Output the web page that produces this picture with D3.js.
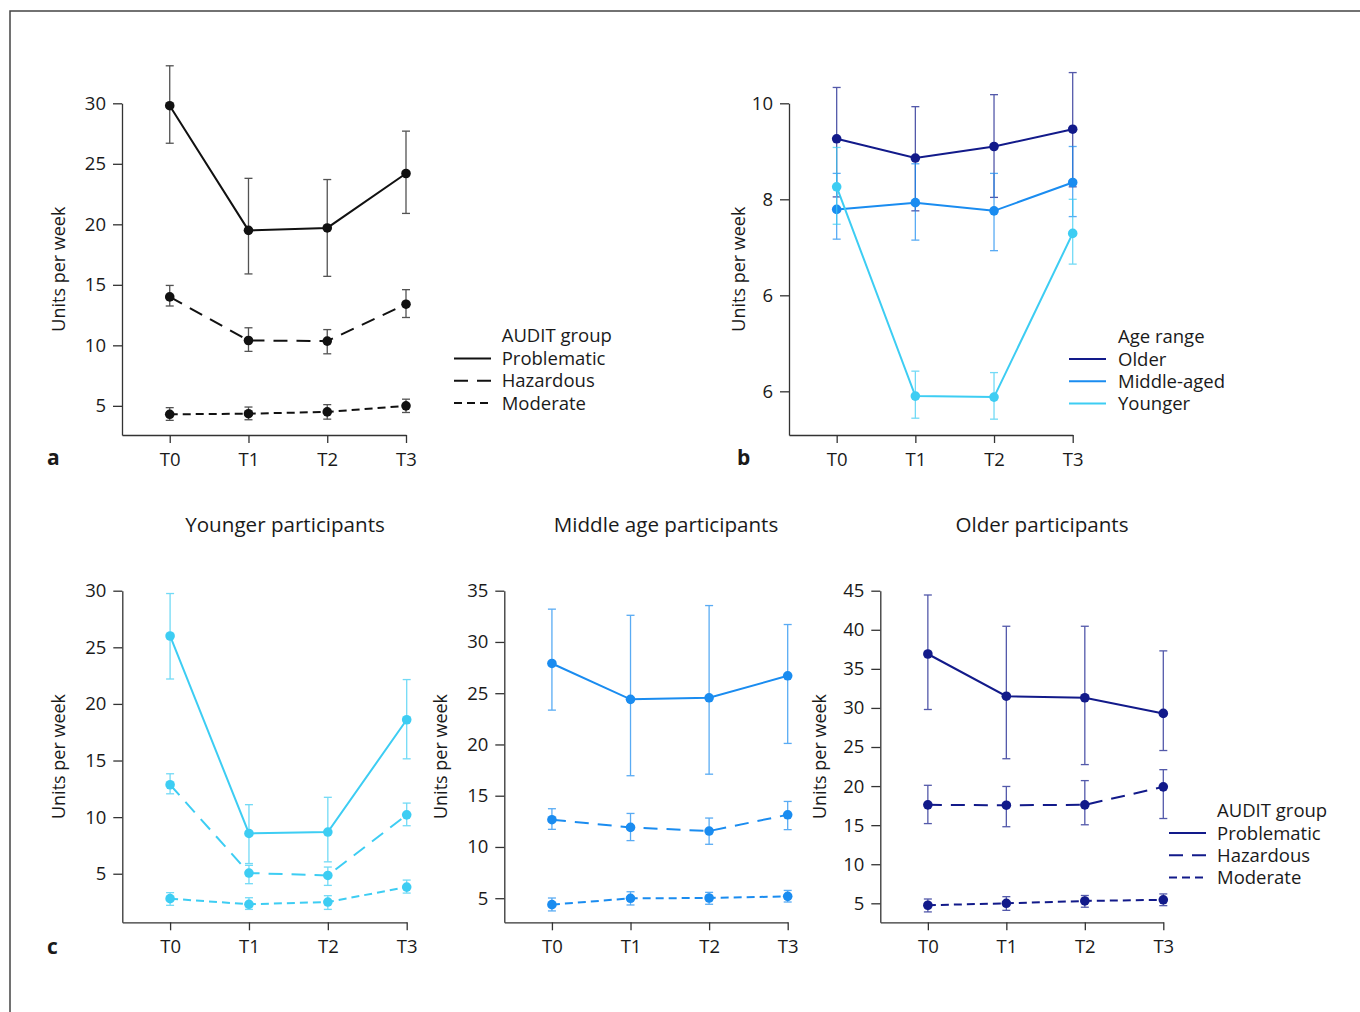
<!DOCTYPE html>
<html>
<head>
<meta charset="utf-8">
<script src="https://cdn.jsdelivr.net/npm/d3@7"></script>
<style>
  body { margin: 0; background: #fff; }
  svg text { font-family: "Open Sans", sans-serif; fill: #1a1a1a; }
</style>
</head>
<body>
<svg id="fig" width="1360" height="1012"></svg>
<script>
const times = ['T0', 'T1', 'T2', 'T3']

// panel a : AUDIT groups, all participants
const aProblematic   = [29.8, 19.5, 19.7, 24.2],
      aProblematicLo = [26.7, 15.9, 15.7, 20.9],
      aProblematicHi = [33.1, 23.8, 23.7, 27.7],
      aHazardous     = [14.0, 10.4, 10.35, 13.4],
      aHazardousLo   = [13.25, 9.5, 9.3, 12.3],
      aHazardousHi   = [14.95, 11.45, 11.3, 14.6],
      aModerate      = [4.3, 4.35, 4.5, 5.0],
      aModerateLo    = [3.8, 3.85, 3.9, 4.45],
      aModerateHi    = [4.85, 4.9, 5.1, 5.55]

// panel b : age ranges (tick labels copied as printed)
const bTicks      = [4, 6, 8, 10],
      bTickLabels = ['6', '6', '8', '10'],
      bOlder      = [9.26, 8.86, 9.10, 9.46],
      bOlderLo    = [8.05, 7.76, 8.04, 8.26],
      bOlderHi    = [10.33, 9.93, 10.18, 10.64],
      bMiddle     = [7.79, 7.93, 7.76, 8.35],
      bMiddleLo   = [7.17, 7.15, 6.93, 7.64],
      bMiddleHi   = [8.54, 8.74, 8.54, 9.10],
      bYounger    = [8.26, 3.90, 3.88, 7.29],
      bYoungerLo  = [7.48, 3.44, 3.42, 6.65],
      bYoungerHi  = [9.08, 4.42, 4.39, 8.0]

// panel c : younger participants
const yProblematic   = [26.0, 8.56, 8.68, 18.6],
      yProblematicLo = [22.2, 5.9, 6.05, 15.15],
      yProblematicHi = [29.75, 11.1, 11.75, 22.15],
      yHazardous     = [12.86, 5.06, 4.85, 10.2],
      yHazardousLo   = [12.06, 4.12, 3.97, 9.24],
      yHazardousHi   = [13.83, 5.74, 5.59, 11.24],
      yModerate      = [2.8, 2.3, 2.5, 3.82],
      yModerateLo    = [2.21, 1.85, 1.85, 3.29],
      yModerateHi    = [3.33, 2.88, 3.06, 4.44]

// middle age participants
const mProblematic   = [27.9, 24.4, 24.55, 26.7],
      mProblematicLo = [23.35, 16.95, 17.1, 20.1],
      mProblematicHi = [33.2, 32.6, 33.55, 31.7],
      mHazardous     = [12.66, 11.91, 11.55, 13.14],
      mHazardousLo   = [11.72, 10.62, 10.26, 11.69],
      mHazardousHi   = [13.73, 13.27, 12.82, 14.44],
      mModerate      = [4.37, 4.99, 5.02, 5.18],
      mModerateLo    = [3.76, 4.34, 4.41, 4.63],
      mModerateHi    = [5.02, 5.63, 5.57, 5.76]

// older participants
const oProblematic   = [36.9, 31.5, 31.3, 29.3],
      oProblematicLo = [29.8, 23.5, 22.75, 24.55],
      oProblematicHi = [44.45, 40.45, 40.45, 37.3],
      oHazardous     = [17.6, 17.55, 17.6, 19.9],
      oHazardousLo   = [15.2, 14.8, 15.05, 15.85],
      oHazardousHi   = [20.1, 19.95, 20.7, 22.1],
      oModerate      = [4.75, 5.0, 5.3, 5.45],
      oModerateLo    = [3.9, 4.1, 4.5, 4.7],
      oModerateHi    = [5.55, 5.85, 6.0, 6.2]

const auditGroups = ['Problematic', 'Hazardous', 'Moderate'],
      ageGroups   = ['Older', 'Middle-aged', 'Younger']

const cOlder = '#121a8a', cMiddle = '#1a8cf0', cYounger = '#3dcdf3', cBlack = '#111',
      dashes = { Problematic: null, Hazardous: '14,9', Moderate: '8,5' }

const svg = d3.select('#fig')

function ser(name, color, dash, m, lo, hi) {
  return { name, color, dash, values: m.map((v, i) => ({ i, v, lo: lo[i], hi: hi[i] })) }
}

function panel(p) {
  let g = svg.append('g'),
      x = d3.scaleLinear().domain([-0.606, 3]).range([p.left, p.right]),
      y = d3.scaleLinear().domain(p.yDomain).range([p.bottom, p.top])

  // note: tickSize() also sets the outer size, so zero it afterwards
  g.append('g').attr('transform', `translate(${p.left},0)`)
    .call(d3.axisLeft(y).tickValues(p.ticks).tickSize(9).tickSizeOuter(0).tickPadding(7)
      .tickFormat((d, i) => p.tickLabels ? p.tickLabels[i] : d))
  g.append('g').attr('transform', `translate(0,${p.bottom})`)
    .call(d3.axisBottom(x).tickValues([0, 1, 2, 3]).tickSize(8).tickSizeOuter(0).tickPadding(10)
      .tickFormat(d => times[d]))
  g.selectAll('.domain, .tick line').attr('stroke', '#333').attr('stroke-width', 1.3)
  g.selectAll('.tick text').attr('font-size', 18.5).attr('fill', '#1a1a1a')
    .style('font-family', '"Open Sans", sans-serif')

  g.append('text')
    .attr('transform', `translate(${p.titleX},${(p.top + p.bottom) / 2}) rotate(-90)`)
    .attr('text-anchor', 'middle').attr('font-size', 18)
    .text('Units per week')

  let line = d3.line().x(d => x(d.i)).y(d => y(d.v))

  p.series.forEach(s => {
    let eg = g.append('g').attr('stroke', s.color).attr('stroke-width', 1.3).attr('opacity', 0.72)
    s.values.forEach(d => {
      eg.append('line').attr('x1', x(d.i)).attr('x2', x(d.i)).attr('y1', y(d.lo)).attr('y2', y(d.hi))
      eg.append('line').attr('x1', x(d.i) - 4).attr('x2', x(d.i) + 4).attr('y1', y(d.lo)).attr('y2', y(d.lo))
      eg.append('line').attr('x1', x(d.i) - 4).attr('x2', x(d.i) + 4).attr('y1', y(d.hi)).attr('y2', y(d.hi))
    })
    g.append('path').datum(s.values)
      .attr('d', line).attr('fill', 'none').attr('stroke', s.color).attr('stroke-width', 2)
      .attr('stroke-dasharray', s.dash)
    g.selectAll(null).data(s.values).enter().append('circle')
      .attr('cx', d => x(d.i)).attr('cy', d => y(d.v)).attr('r', 4.8).attr('fill', s.color)
  })
}

function legend(lx, tx, ty, title, items) {
  let g = svg.append('g')
  g.append('text').attr('x', tx).attr('y', ty).attr('font-size', 18.5).text(title)
  items.forEach((it, k) => {
    let cy = ty + 16.5 + k * 22.3
    g.append('line').attr('x1', lx).attr('x2', lx + 37).attr('y1', cy).attr('y2', cy)
      .attr('stroke', it.color).attr('stroke-width', 2).attr('stroke-dasharray', it.dash)
    g.append('text').attr('x', tx).attr('y', cy + 6.5).attr('font-size', 18.5).text(it.name)
  })
}

// frame
svg.append('path').attr('d', 'M10,1012V11H1360').attr('fill', 'none')
  .attr('stroke', '#444').attr('stroke-width', 1.5)

const auditSeries = (c, P, PL, PH, H, HL, HH, M, ML, MH) => [
  ser('Problematic', c, dashes.Problematic, P, PL, PH),
  ser('Hazardous', c, dashes.Hazardous, H, HL, HH),
  ser('Moderate', c, dashes.Moderate, M, ML, MH)]

panel({ left: 122, right: 406, top: 103.3, bottom: 435, yDomain: [2.59, 30],
        ticks: [5, 10, 15, 20, 25, 30], titleX: 65,
        series: auditSeries(cBlack, aProblematic, aProblematicLo, aProblematicHi,
          aHazardous, aHazardousLo, aHazardousHi, aModerate, aModerateLo, aModerateHi) })

panel({ left: 789, right: 1072.7, top: 103.3, bottom: 435, yDomain: [3.09, 10],
        ticks: bTicks, tickLabels: bTickLabels, titleX: 745,
        series: [ser('Older', cOlder, null, bOlder, bOlderLo, bOlderHi),
                 ser('Middle-aged', cMiddle, null, bMiddle, bMiddleLo, bMiddleHi),
                 ser('Younger', cYounger, null, bYounger, bYoungerLo, bYoungerHi)] })

panel({ left: 122.3, right: 406.7, top: 590.7, bottom: 922.3, yDomain: [0.71, 30],
        ticks: [5, 10, 15, 20, 25, 30], titleX: 65,
        series: auditSeries(cYounger, yProblematic, yProblematicLo, yProblematicHi,
          yHazardous, yHazardousLo, yHazardousHi, yModerate, yModerateLo, yModerateHi) })

panel({ left: 504.3, right: 787.7, top: 590.7, bottom: 922.3, yDomain: [2.65, 35],
        ticks: [5, 10, 15, 20, 25, 30, 35], titleX: 447,
        series: auditSeries(cMiddle, mProblematic, mProblematicLo, mProblematicHi,
          mHazardous, mHazardousLo, mHazardousHi, mModerate, mModerateLo, mModerateHi) })

panel({ left: 880.3, right: 1163.3, top: 590.7, bottom: 922.3, yDomain: [2.57, 45],
        ticks: [5, 10, 15, 20, 25, 30, 35, 40, 45], titleX: 826,
        series: auditSeries(cOlder, oProblematic, oProblematicLo, oProblematicHi,
          oHazardous, oHazardousLo, oHazardousHi, oModerate, oModerateLo, oModerateHi) })

legend(454, 501.7, 342, 'AUDIT group', auditGroups.map(n => ({ name: n, color: cBlack, dash: dashes[n] })))
legend(1069, 1118, 342.5, 'Age range',
  ageGroups.map((n, k) => ({ name: n, color: [cOlder, cMiddle, cYounger][k], dash: null })))
legend(1169, 1217, 816.5, 'AUDIT group', auditGroups.map(n => ({ name: n, color: cOlder, dash: dashes[n] })))

// sub-panel titles
;[['Younger participants', 285], ['Middle age participants', 666], ['Older participants', 1042]]
  .forEach(([t, cx]) => svg.append('text').attr('x', cx).attr('y', 532)
    .attr('text-anchor', 'middle').attr('font-size', 20.6).text(t))

// panel letters
;[['a', 47, 465], ['b', 737, 465], ['c', 47, 954]]
  .forEach(([t, px, py]) => svg.append('text').attr('x', px).attr('y', py)
    .attr('font-size', 21).attr('font-weight', 'bold').text(t))
</script>
</body>
</html>
